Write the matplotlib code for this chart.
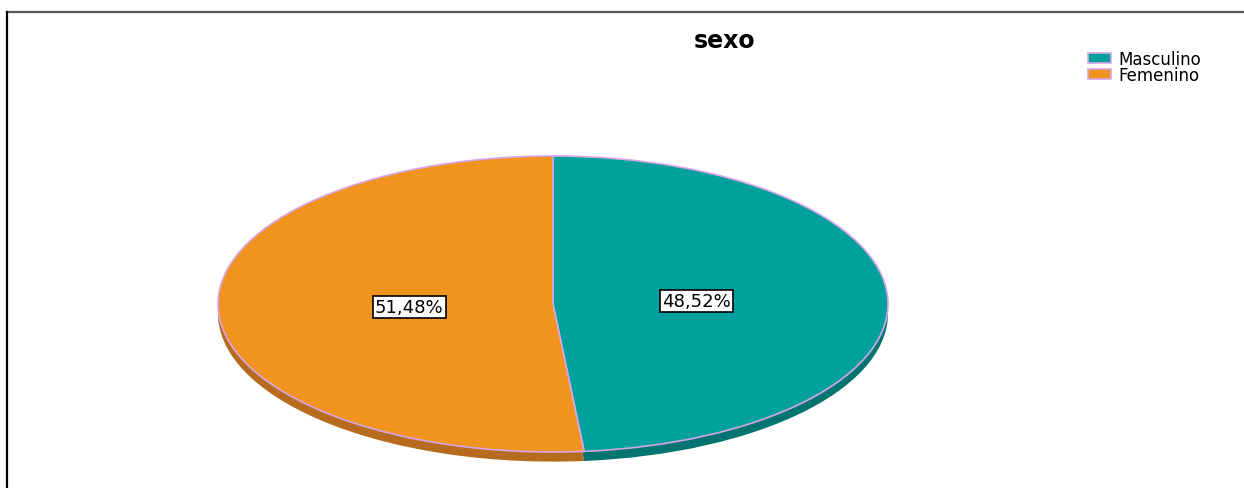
import numpy as np
import matplotlib
matplotlib.use('Agg')
from matplotlib import pyplot as plt
from matplotlib.patches import Patch
from matplotlib.lines import Line2D

# data
categories = ['Masculino', 'Femenino']
percentages = [48.52, 51.48]
labels_pct = ['48,52%', '51,48%']
title = 'sexo'

top_colors = ['#00A09F', '#F0931F']
side_colors = ['#00746F', '#B76B1C']
edge_col = '#D7A6E6'

W, H = 1244, 489
fig = plt.figure(figsize=(W / 100, H / 100), dpi=100)
plt.rcParams['font.family'] = ['DejaVu Sans']

# frame lines (top and left)
fig.add_artist(Line2D([7 / W, 1], [1 - 13 / H, 1 - 13 / H], color='#555555', lw=1.6))
fig.add_artist(Line2D([7 / W, 7 / W], [0, 1 - 13 / H], color='black', lw=1.6))

# pie axes, stretched into an ellipse
left, right, top, bottom = 218, 888, 157, 453
ax = fig.add_axes([left / W, 1 - bottom / H, (right - left) / W, (bottom - top) / H])

depth = 0.065
# side (depth) of the pie
side, _ = ax.pie(percentages, colors=side_colors, startangle=90, counterclock=False,
                 center=(0, -depth), radius=1,
                 wedgeprops=dict(linewidth=0))
for w in side:
    w.set_clip_on(False)

wedges, _, autotexts = ax.pie(percentages, colors=top_colors, startangle=90,
                              counterclock=False, radius=1,
                              autopct='%1.2f%%', pctdistance=0.43,
                              wedgeprops=dict(edgecolor=edge_col, linewidth=1.2))
for w in wedges:
    w.set_clip_on(False)
for t, s in zip(autotexts, labels_pct):
    t.set_text(s)
    t.set_fontsize(13)
    t.set_color('black')
    t.set_bbox(dict(boxstyle='square,pad=0.12', facecolor='white',
                    edgecolor='black', linewidth=1.2))

ax.set_aspect('auto')
ax.set_xlim(-1, 1)
ax.set_ylim(-1, 1)
ax.axis('off')

fig.text(725 / W, 1 - 41 / H, title, ha='center', va='center',
         fontsize=17, fontweight='bold')

handles = [Patch(facecolor=c, edgecolor=edge_col, linewidth=1.2) for c in top_colors]
fig.legend(handles, categories, loc='upper left',
           bbox_to_anchor=(1088 / W, 1 - 51 / H), frameon=False,
           fontsize=12, handlelength=1.4, handleheight=0.55,
           labelspacing=-0.1, borderpad=0, borderaxespad=0, handletextpad=0.45)

plt.savefig('out.png', dpi=100)
